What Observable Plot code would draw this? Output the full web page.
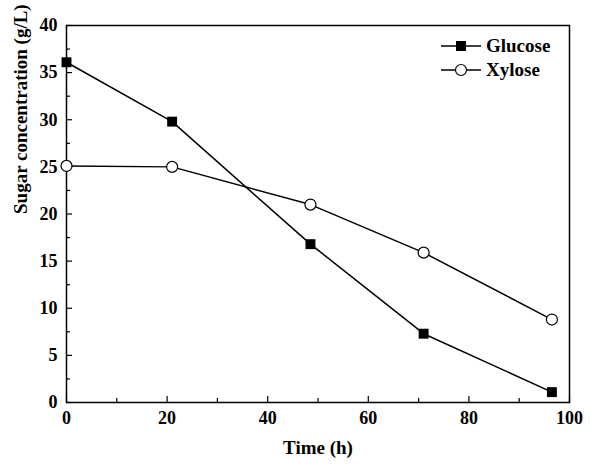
<!DOCTYPE html>
<html>
<head>
<meta charset="utf-8">
<script src="https://cdn.jsdelivr.net/npm/d3@7"></script>
<script src="https://cdn.jsdelivr.net/npm/@observablehq/plot@0.6"></script>
<style>
  body { margin: 0; background: #fff; }
  #wrap { position: relative; width: 600px; height: 473px; }
  #legend { position: absolute; left: 441px; top: 34px; font-family: "Liberation Serif", serif; font-weight: bold; font-size: 19px; }
  #legend div { display: flex; align-items: center; height: 24px; }
  #legend svg { margin-right: 5px; }
</style>
</head>
<body>
<div id="wrap"><div id="legend"></div></div>
<script>
const series = ["Glucose", "Xylose"];
const timeH = [0, 21, 48.5, 71, 96.5];
const glucose = [36.1, 29.8, 16.8, 7.3, 1.1];
const xylose = [25.1, 25.0, 21.0, 15.9, 8.8];
const xMajor = [0, 20, 40, 60, 80, 100];
const xMinor = [10, 30, 50, 70, 90];
const yMajor = [0, 5, 10, 15, 20, 25, 30, 35, 40];
const yMinor = [2.5, 7.5, 12.5, 17.5, 22.5, 27.5, 32.5, 37.5];

const gData = timeH.map((t, i) => ({t, v: glucose[i]}));
const xData = timeH.map((t, i) => ({t, v: xylose[i]}));

const chart = Plot.plot({
  width: 600, height: 473,
  marginLeft: 66, marginRight: 31, marginTop: 25, marginBottom: 71,
  style: {fontFamily: "Liberation Serif, serif", fontWeight: "bold", fontSize: "18px", color: "black", background: "white"},
  x: {domain: [0, 100]},
  y: {domain: [0, 40]},
  marks: [
    Plot.axisX(xMajor, {tickSize: 0, tickPadding: 9, fontSize: 18, label: null}),
    Plot.axisX(xMajor, {tickSize: -6, text: null, label: null, strokeWidth: 1.2}),
    Plot.axisX(xMinor, {tickSize: -4, text: null, label: null, strokeWidth: 1.2}),
    Plot.axisY(yMajor, {tickSize: 0, tickPadding: 9, fontSize: 18, label: null}),
    Plot.axisY(yMajor, {tickSize: -6, text: null, label: null, strokeWidth: 1.2}),
    Plot.axisY(yMinor, {tickSize: -4, text: null, label: null, strokeWidth: 1.2}),
    Plot.frame({stroke: "black", strokeWidth: 1.5}),
    Plot.line(gData, {x: "t", y: "v", stroke: "black", strokeWidth: 1.5}),
    Plot.line(xData, {x: "t", y: "v", stroke: "black", strokeWidth: 1.5}),
    Plot.dot(gData, {x: "t", y: "v", symbol: "square", r: 5.6, fill: "black"}),
    Plot.dot(xData, {x: "t", y: "v", symbol: "circle", r: 5.5, fill: "white", stroke: "black", strokeWidth: 1.2}),
    Plot.text(["Time (h)"], {frameAnchor: "bottom", dy: 51, fontSize: 19, fontWeight: "bold"}),
    Plot.text(["Sugar concentration (g/L)"], {frameAnchor: "left", dx: -46, rotate: -90, fontSize: 19, fontWeight: "bold"})
  ]
});
document.getElementById("wrap").prepend(chart);

const legend = document.getElementById("legend");
series.forEach((name, i) => {
  const row = document.createElement("div");
  const sym = i === 0
    ? '<rect x="15" y="7" width="10" height="10" fill="black"/>'
    : '<circle cx="20" cy="12" r="5.5" fill="white" stroke="black" stroke-width="1.2"/>';
  row.innerHTML = `<svg width="40" height="24"><line x1="0" x2="40" y1="12" y2="12" stroke="black" stroke-width="1.5"/>${sym}</svg><span>${name}</span>`;
  legend.appendChild(row);
});
</script>
</body>
</html>
